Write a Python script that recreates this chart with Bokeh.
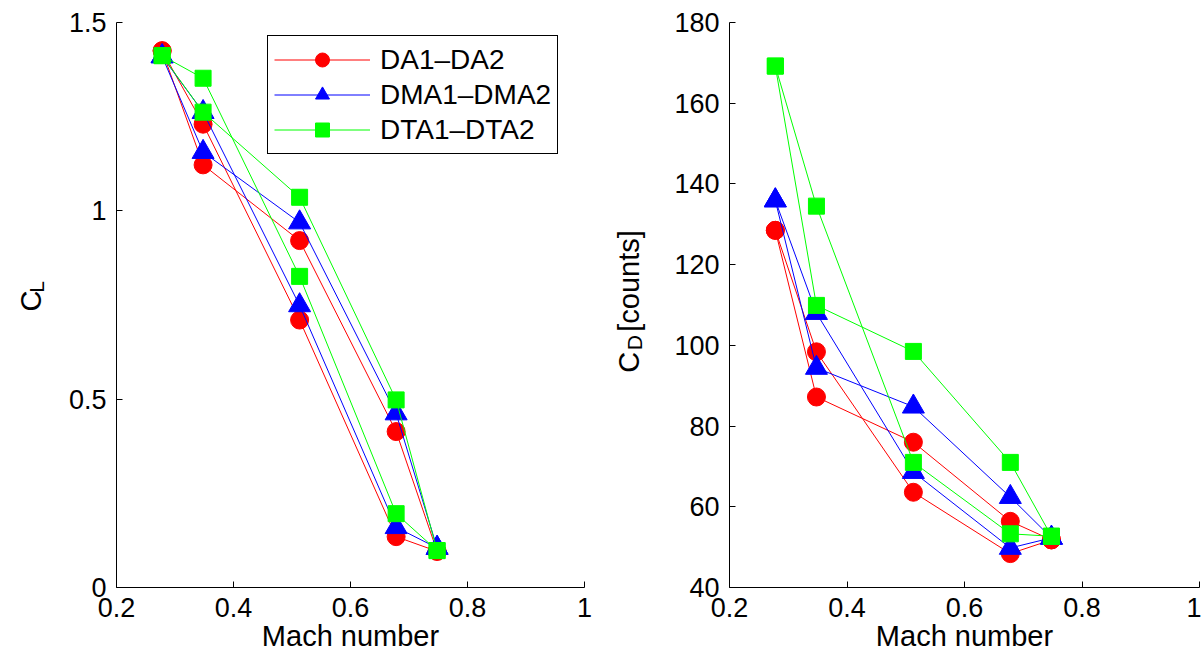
from math import pi
from bokeh.plotting import figure
from bokeh.models import (Range1d, FixedTicker, CustomJSTickFormatter, Legend,
                          LegendItem, Label)
from bokeh.layouts import row
from bokeh.embed import file_html
from bokeh.resources import INLINE

# ---------------- data ----------------
mach = [0.278, 0.348, 0.513, 0.678, 0.748]

series_names = ["DA1–DA2", "DMA1–DMA2", "DTA1–DTA2"]

# lift coefficient, two runs per configuration
cl_da_run1 = [1.425, 1.230, 0.710, 0.135, 0.096]
cl_da_run2 = [1.425, 1.122, 0.921, 0.414, 0.096]
cl_dma_run1 = [1.410, 1.262, 0.749, 0.160, 0.105]
cl_dma_run2 = [1.410, 1.156, 0.969, 0.462, 0.105]
cl_dta_run1 = [1.412, 1.352, 0.826, 0.196, 0.098]
cl_dta_run2 = [1.412, 1.262, 1.036, 0.498, 0.098]

# drag coefficient [counts], two runs per configuration
cd_da_run1 = [128.5, 98.4, 63.6, 48.4, 51.8]
cd_da_run2 = [128.5, 87.2, 76.0, 56.4, 51.8]
cd_dma_run1 = [135.9, 108.0, 68.6, 49.8, 52.3]
cd_dma_run2 = [135.9, 94.4, 84.8, 62.4, 52.3]
cd_dta_run1 = [169.2, 134.5, 71.0, 53.3, 52.7]
cd_dta_run2 = [169.2, 109.9, 98.5, 71.0, 52.7]

x_ticks = [0.2, 0.4, 0.6, 0.8, 1.0]
cl_ticks = [0, 0.5, 1.0, 1.5]
cd_ticks = [40, 60, 80, 100, 120, 140, 160, 180]

x_title = "Mach number"

# ---------------- styling ----------------
FONT = "Liberation Sans"
FS = "27px"      # tick labels
LFS = "29px"     # axis labels
SFS = "21px"     # subscripts
H = 660
colors = ["#ff0000", "#0000ff", "#00ff00"]
markers = ["circle", "triangle", "square"]
msizes = [18, 22, 16]

fmt = CustomJSTickFormatter(code="return String(Math.round(tick*1000)/1000);")


def style_axes(p, yticks):
    p.xaxis.ticker = FixedTicker(ticks=x_ticks)
    p.yaxis.ticker = FixedTicker(ticks=yticks)
    for ax in (p.xaxis[0], p.yaxis[0]):
        ax.formatter = fmt
        ax.axis_line_color = "black"
        ax.axis_line_width = 1
        ax.major_tick_line_color = "black"
        ax.major_tick_in = 6
        ax.major_tick_out = 0
        ax.minor_tick_line_color = None
        ax.major_label_text_font = FONT
        ax.major_label_text_font_size = FS
        ax.major_label_text_color = "black"
    p.xaxis.major_label_standoff = 10
    p.yaxis.major_label_standoff = 10
    p.xaxis.axis_label = x_title
    p.xaxis.axis_label_text_font = FONT
    p.xaxis.axis_label_text_font_size = LFS
    p.xaxis.axis_label_text_font_style = "normal"
    p.xaxis.axis_label_text_color = "black"
    p.xaxis.axis_label_standoff = 0
    p.xgrid.visible = False
    p.ygrid.visible = False
    p.outline_line_color = None
    p.background_fill_color = "white"
    p.border_fill_color = "white"


def draw_series(p, runs):
    items = []
    for i, (r1, r2) in enumerate(runs):
        l1 = p.line(mach, r1, line_color=colors[i], line_width=1)
        l2 = p.line(mach, r2, line_color=colors[i], line_width=1)
        s = p.scatter(mach + mach, r1 + r2, marker=markers[i], size=msizes[i],
                      fill_color=colors[i], line_color=colors[i], line_width=1)
        items.append(LegendItem(label=series_names[i], renderers=[l1, s]))
    return items


def strip(width, height):
    f = figure(width=width, height=height, x_range=Range1d(0, width), y_range=Range1d(0, height),
               output_backend="svg", toolbar_location=None, title=None,
               x_axis_location=None, y_axis_location=None,
               min_border_left=0, min_border_right=0, min_border_top=0, min_border_bottom=0)
    f.grid.visible = False
    f.outline_line_color = None
    f.background_fill_color = "white"
    f.border_fill_color = "white"
    return f


def vtext(f, cx, cy_page, text, size):
    # centre of the (rotated) text box, cy given from the top of the page
    f.add_layout(Label(x=cx, y=H - cy_page, angle=pi / 2, text=text,
                       text_align="center", text_baseline="middle",
                       text_font=FONT, text_font_size=size, text_color="black"))


# ---------------- y label strips ----------------
lab1 = strip(60, H)
vtext(lab1, 30, 325.5, "C", LFS)
vtext(lab1, 36, 309, "L", SFS)

lab2 = strip(60, H)
vtext(lab2, 28, 397, "C", LFS)
vtext(lab2, 34, 374, "D", SFS)
vtext(lab2, 28, 302, "[counts]", LFS)

# ---------------- left: C_L ----------------
p1 = figure(width=540, height=H, x_range=Range1d(0.2, 1.0), y_range=Range1d(0, 1.5),
            output_backend="svg", toolbar_location=None, title=None,
            min_border_left=56, min_border_right=16, min_border_top=22, min_border_bottom=73)
style_axes(p1, cl_ticks)
items = draw_series(p1, [(cl_da_run1, cl_da_run2), (cl_dma_run1, cl_dma_run2),
                         (cl_dta_run1, cl_dta_run2)])
legend = Legend(items=items, location=(151, 433))
legend.border_line_color = "black"
legend.border_line_width = 1
legend.border_line_alpha = 1
legend.background_fill_color = "white"
legend.background_fill_alpha = 1
legend.label_text_font = FONT
legend.label_text_font_size = "28px"
legend.label_text_color = "black"
legend.glyph_width = 96
legend.glyph_height = 35
legend.label_height = 35
legend.label_standoff = 10
legend.spacing = 0
legend.padding = 6
legend.margin = 0
p1.add_layout(legend)

# ---------------- right: C_D ----------------
p2 = figure(width=541, height=H, x_range=Range1d(0.2, 1.0), y_range=Range1d(40, 180),
            output_backend="svg", toolbar_location=None, title=None,
            min_border_left=69, min_border_right=2, min_border_top=22, min_border_bottom=73)
style_axes(p2, cd_ticks)
draw_series(p2, [(cd_da_run1, cd_da_run2), (cd_dma_run1, cd_dma_run2),
                 (cd_dta_run1, cd_dta_run2)])

layout = row(lab1, p1, lab2, p2)
open("out.html", "w").write(file_html(layout, INLINE))
